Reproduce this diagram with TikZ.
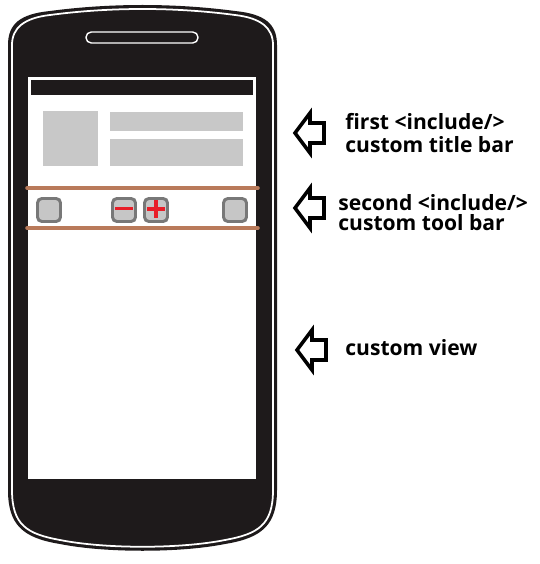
\documentclass[tikz,border=0pt]{standalone}
\usepackage{fontspec}
\setmainfont{Open Sans}
\usetikzlibrary{positioning}
\definecolor{bandbrown}{RGB}{185,122,90}
\definecolor{iconfill}{RGB}{198,198,198}
\definecolor{iconedge}{RGB}{120,120,120}
\definecolor{mockgray}{RGB}{200,200,200}
\definecolor{signred}{RGB}{232,30,40}
\definecolor{phoneblack}{RGB}{30,26,27}
\tikzset{
  label text/.style={font=\bfseries\fontsize{12}{13.6}\selectfont, anchor=base west, inner sep=0pt, align=left},
  icon btn/.style={fill=iconfill, draw=iconedge, line width=1.7pt, rounded corners=2.5pt, minimum size=0.46cm, inner sep=0pt},
  bar line/.style={draw=bandbrown, line width=2pt, line cap=round},
  sign/.style={draw=signred, line width=2.2pt},
  pics/hollow arrow/.style={code={\draw[line width=2pt] (0,0) -- (15,-20) -- (15,-10) -- (29,-10) -- (29,10) -- (15,10) -- (15,20) -- cycle;}}
}
% outline of the handset, #1 = inset
\newcommand{\handsetpath}[1]{({8+#1},60) -- ({8+#1},45) .. controls ({8+#1},{24+#1}) and ({20+#1},{14+#1}) .. (50,{11+#1}) .. controls (110,{3+#1}) and (175,{3+#1}) .. (235,{11+#1}) .. controls ({265-#1},{14+#1}) and ({277-#1},{24+#1}) .. ({277-#1},45) -- ({277-#1},490) .. controls ({277-#1},525) and ({262-#1},{538-#1}) .. (225,{544-#1}) .. controls (180,{553-#1}) and (105,{553-#1}) .. (60,{544-#1}) .. controls ({23+#1},{538-#1}) and ({8+#1},525) .. ({8+#1},490) -- cycle}

\begin{document}
\begin{tikzpicture}[x=0.02cm, y=-0.02cm]
\useasboundingbox (0,0) rectangle (540,564);
% handset
\fill[phoneblack] \handsetpath{0};
\draw[white, line width=1pt] \handsetpath{4};
\draw[white, line width=0.8pt, fill=phoneblack, rounded corners=3pt] (86,32) rectangle (198,43);
% screen
\draw[white, line width=0.8pt, fill=white] (29,78) rectangle (255,478);
\fill[phoneblack] (31,80) rectangle (253,95);
\fill[mockgray] (43,111) rectangle (98,166);
\fill[mockgray] (110,112) rectangle (243,131);
\fill[mockgray] (110,139) rectangle (243,166);
% tool bar
\draw[bar line] (27,188) -- (258,188);
\draw[bar line] (27,228) -- (258,228);
\node[icon btn] (btnL) at (49,210) {};
\node[icon btn] (btnMinus) at (124,210) {};
\node[icon btn] (btnPlus) at (156,210) {};
\node[icon btn] (btnR) at (235,210) {};
\draw[sign] ([xshift=-0.18cm, yshift=0.03cm]btnMinus.center) -- ([xshift=0.18cm, yshift=0.03cm]btnMinus.center);
\draw[sign] ([xshift=-0.18cm, yshift=0.02cm]btnPlus.center) -- ([xshift=0.18cm, yshift=0.02cm]btnPlus.center);
\draw[sign] ([yshift=0.2cm]btnPlus.center) -- ([yshift=-0.16cm]btnPlus.center);
% labels
\pic (arrTitle) at (295,133) {hollow arrow};
\pic (arrTool) at (295,208) {hollow arrow};
\pic (arrView) at (297,350) {hollow arrow};
\node[label text] (txtTitle) at (345,153) {first <include/>\\custom title bar};
\node[label text, font=\bfseries\fontsize{12}{11.3}\selectfont] (txtTool) at (338,230) {second <include/>\\custom tool bar};
\node[label text] (txtView) at (345,355) {custom view};
\end{tikzpicture}
\end{document}
